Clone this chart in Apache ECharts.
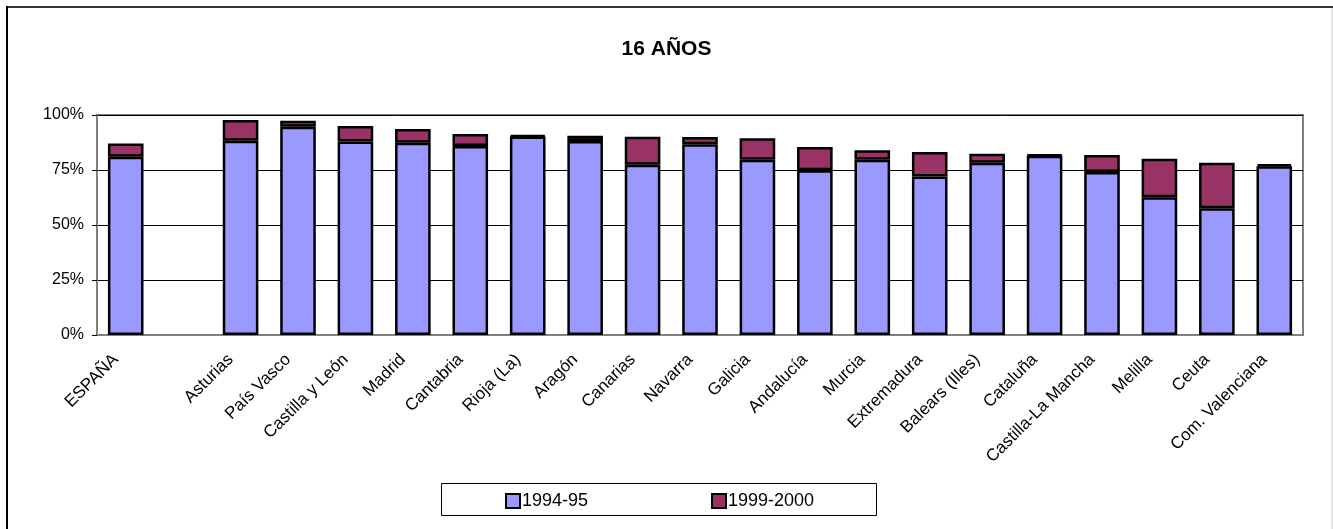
<!DOCTYPE html>
<html>
<head>
<meta charset="utf-8">
<script src="https://cdn.jsdelivr.net/npm/echarts@6/dist/echarts.min.js"></script>
<style>
html,body{margin:0;padding:0;background:#fff;}
#c{width:1333px;height:529px;}
</style>
</head>
<body>
<div id="c"></div>
<script>
const categories = ['ESPAÑA','','Asturias','País Vasco','Castilla y León','Madrid','Cantabria','Rioja (La)','Aragón','Canarias','Navarra','Galicia','Andalucía','Murcia','Extremadura','Balears (Illes)','Cataluña','Castilla-La Mancha','Melilla','Ceuta','Com. Valenciana'];
const s1994 = [81.0, null, 88.3, 94.7, 87.9, 87.4, 85.9, 90.2, 88.2, 77.4, 86.7, 79.7, 74.9, 79.7, 72.1, 78.3, 81.5, 74.1, 62.6, 57.6, 76.7];
const s1999 = [6.1, null, 9.4, 2.7, 7.1, 6.2, 5.5, 0.6, 2.4, 12.7, 3.3, 9.7, 10.6, 4.3, 11.1, 4.1, 0.5, 7.7, 17.5, 20.7, 0.9];
const yTicks = [0, 25, 50, 75, 100];
const seriesNames = ['1994-95', '1999-2000'];
const titleText = '16 AÑOS';

const chart = echarts.init(document.getElementById('c'), null, {renderer: 'canvas'});
const font = 'Liberation Sans, Arial, sans-serif';
chart.setOption({
  animation: false,
  backgroundColor: '#fff',
  textStyle: {fontFamily: font},
  title: {
    text: titleText, left: 'center', top: 34,
    textStyle: {fontFamily: font, fontSize: 21, fontWeight: 'bold', color: '#000'}
  },
  graphic: [
    {type: 'line', shape: {x1: 6, y1: 7, x2: 1333, y2: 7}, style: {stroke: '#333', lineWidth: 2}},
    {type: 'line', shape: {x1: 7, y1: 6, x2: 7, y2: 529}, style: {stroke: '#000', lineWidth: 2}},
    {type: 'line', shape: {x1: 1332, y1: 8, x2: 1332, y2: 529}, style: {stroke: '#ccc', lineWidth: 1}},
    {type: 'rect', shape: {x: 441.5, y: 483.5, width: 435, height: 32}, style: {fill: '#fff', stroke: '#000', lineWidth: 1}, z: 0}
  ],
  legend: [
    {data: [seriesNames[0]], left: 500, top: 487, itemWidth: 14, itemHeight: 14, icon: 'rect', itemGap: 0,
     textStyle: {fontFamily: font, fontSize: 18, color: '#000', padding: [0,0,0,-3]}, z: 5},
    {data: [seriesNames[1]], left: 706, top: 487, itemWidth: 14, itemHeight: 14, icon: 'rect', itemGap: 0,
     textStyle: {fontFamily: font, fontSize: 18, color: '#000', padding: [0,0,0,-3]}, z: 5}
  ],
  grid: {left: 97, right: 30, top: 115, bottom: 194, show: true, borderColor: '#808080', borderWidth: 2, containLabel: false},
  xAxis: {
    type: 'category', data: categories,
    axisLine: {lineStyle: {color: '#808080', width: 2}},
    axisTick: {show: false},
    axisLabel: {interval: 0, rotate: 45, margin: 12, fontSize: 17, color: '#000', fontFamily: font, padding: [0, 14, 0, 0]}
  },
  yAxis: {
    type: 'value', min: 0, max: 100, interval: 25,
    axisLine: {show: true, lineStyle: {color: '#808080', width: 2}},
    axisTick: {show: true, length: 5, lineStyle: {color: '#000'}},
    axisLabel: {formatter: '{value}%', margin: 13, fontSize: 16, color: '#000', fontFamily: font},
    splitLine: {show: true, lineStyle: {color: '#000', width: 1}}
  },
  series: [
    {name: seriesNames[0], type: 'bar', stack: 't', data: s1994, barWidth: '62%',
     itemStyle: {color: '#9999FF', borderColor: '#000', borderWidth: 2.5}},
    {name: seriesNames[1], type: 'bar', stack: 't', data: s1999, barWidth: '62%',
     itemStyle: {color: '#993366', borderColor: '#000', borderWidth: 2.5}}
  ]
});
</script>
</body>
</html>
